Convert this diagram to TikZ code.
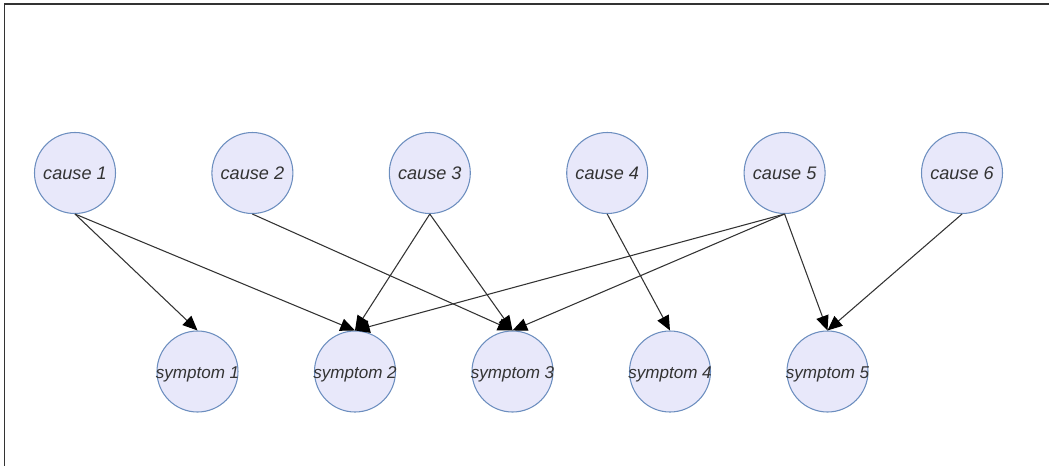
\documentclass[tikz,border=0pt]{standalone}
\usepackage{fontspec}
\setmainfont{Liberation Sans}
\usetikzlibrary{arrows.meta}
\definecolor{nodefill}{RGB}{232,232,250}
\definecolor{nodeline}{RGB}{108,142,191}
\definecolor{ink}{RGB}{51,51,51}
\tikzset{
  var/.style={circle, draw=nodeline, fill=nodefill, line width=0.8pt,
    inner sep=0pt, minimum size=60.75pt},
  causelbl/.style={font=\fontsize{13.6}{16}\selectfont\itshape, text=ink, inner sep=0pt},
  symlbl/.style={font=\fontsize{12.8}{15}\selectfont\itshape, text=ink, inner sep=0pt,
    yshift=-1.8pt},
  link/.style={draw=ink, line width=0.8pt,
    -{Triangle[length=11pt,width=9.5pt,color=black]}},
}
\begin{document}
\begin{tikzpicture}[x=0.75pt, y=-0.75pt]
\useasboundingbox (0,0) rectangle (1049,465);
% outer frame
\draw[ink, line width=1.2pt] (4.5,480) -- (4.5,3.8) -- (1060,3.8);

% causes
\foreach \i/\x in {1/75, 2/252.4, 3/429.8, 4/607.2, 5/784.6, 6/962}
  \node[var, label={[causelbl]center:cause \i}] (c\i) at (\x,173) {};

% symptoms
\foreach \i/\x in {1/197.5, 2/355, 3/512.5, 4/670, 5/827.5}
  \node[var, label={[symlbl]center:symptom \i}] (s\i) at (\x,371.5) {};

% dependencies
\foreach \a/\b in {1/1, 1/2, 2/3, 3/2, 3/3, 4/4, 5/2, 5/3, 5/5, 6/5}
  \draw[link] (c\a.south) -- (s\b.north);
\end{tikzpicture}
\end{document}
